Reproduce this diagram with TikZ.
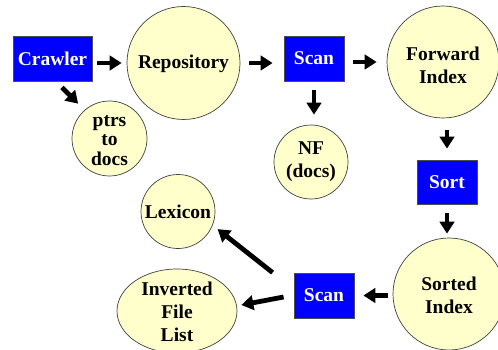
\documentclass[tikz,border=0pt]{standalone}
\usepackage{fontspec}
\setmainfont{Liberation Serif}[BoldFont={Liberation Serif Bold}]
\usetikzlibrary{arrows.meta,shapes.geometric}
\definecolor{pale}{RGB}{255,255,204}
\definecolor{boxblue}{RGB}{0,0,255}
\begin{document}
\begin{tikzpicture}[x=1pt,y=-1pt,
  lbl/.style={font=\fontsize{19.5}{23}\selectfont\bfseries, align=center, inner sep=0pt},
  blk/.style={lbl, draw=black!70, line width=0.8pt, fill=boxblue, text=white, minimum height=45pt},
  circ/.style={circle, draw=black!75, line width=0.7pt, fill=pale, inner sep=0pt, minimum size=#1},
  oval/.style={ellipse, draw=black!75, line width=0.7pt, fill=pale, inner sep=0pt},
  arr/.style={line width=4.8pt, -{Triangle[length=12pt,width=14.5pt]}}]
\useasboundingbox (0,0) rectangle (498,350);

% boxes
\node[blk, minimum width=79pt] (crawler) at (52.5,58.5) {Crawler};
\node[blk, minimum width=60pt] (scan1) at (314,58.5) {Scan};
\node[blk, minimum width=60pt, minimum height=44pt] (sort) at (447,182) {Sort};
\node[blk, minimum width=60pt] (scan2) at (324,295.5) {Scan};

% circles
\node[circ=113pt] (repo) at (183.5,63) {};
\node[lbl, yshift=-1pt] (repo-t) at (repo) {Repository};
\node[circ=112pt] (fwd) at (443,62) {};
\node[lbl, yshift=-3pt] (fwd-t) at (fwd) {Forward\\Index};
\node[circ=75pt] (ptrs) at (109.5,138.5) {};
\node[lbl, font=\fontsize{19.5}{19.5}\selectfont\bfseries, yshift=-2pt] (ptrs-t) at (ptrs) {ptrs\\to\\docs};
\node[circ=74pt] (nf) at (311,162) {};
\node[lbl] (nf-t) at (nf) {NF\\(docs)};
\node[circ=112pt] (sorted) at (449,294) {};
\node[lbl, yshift=-1pt] (sorted-t) at (sorted) {Sorted\\Index};
\node[circ=74pt] (lex) at (178,211.5) {};
\node[lbl] (lex-t) at (lex) {Lexicon};
\node[oval, minimum width=120pt, minimum height=84pt] (inv) at (177,311) {};
\node[lbl, yshift=-1pt] (inv-t) at (inv) {Inverted\\File\\List};

% connectors
\draw[arr, shorten <=5pt, shorten >=5pt] (crawler.east |- repo.west) -- (repo.west);
\draw[arr, shorten <=9pt, shorten >=11pt] (repo.east) -- (scan1.west |- repo.east);
\draw[arr, shorten <=9pt, shorten >=10pt] (scan1.east |- fwd.west) -- (fwd.west);
\draw[arr, shorten <=9pt, shorten >=10pt] (scan1.south) -- (scan1.south |- nf.north);
\draw[arr, shorten <=12pt, shorten >=11pt] (sort.north |- fwd.south) -- (sort.north);
\draw[arr, shorten <=9pt, shorten >=4pt] (sort.south) -- (sort.south |- sorted.north);
\draw[arr, shorten <=5pt, shorten >=9pt] (sorted.west |- scan2.east) -- (scan2.east);
\draw[arr] ([xshift=-10pt,yshift=-1.5pt]scan2.west) -- ([shift={(4pt,6pt)}]inv.east);
\draw[arr] ([xshift=-21pt]scan2.north west) -- ([shift={(-24:6pt)}]lex.-24);
\draw[arr] ([shift={(9.5pt,-6pt)}]crawler.south) -- ([shift={(132:9pt)}]ptrs.132);
\end{tikzpicture}
\end{document}
